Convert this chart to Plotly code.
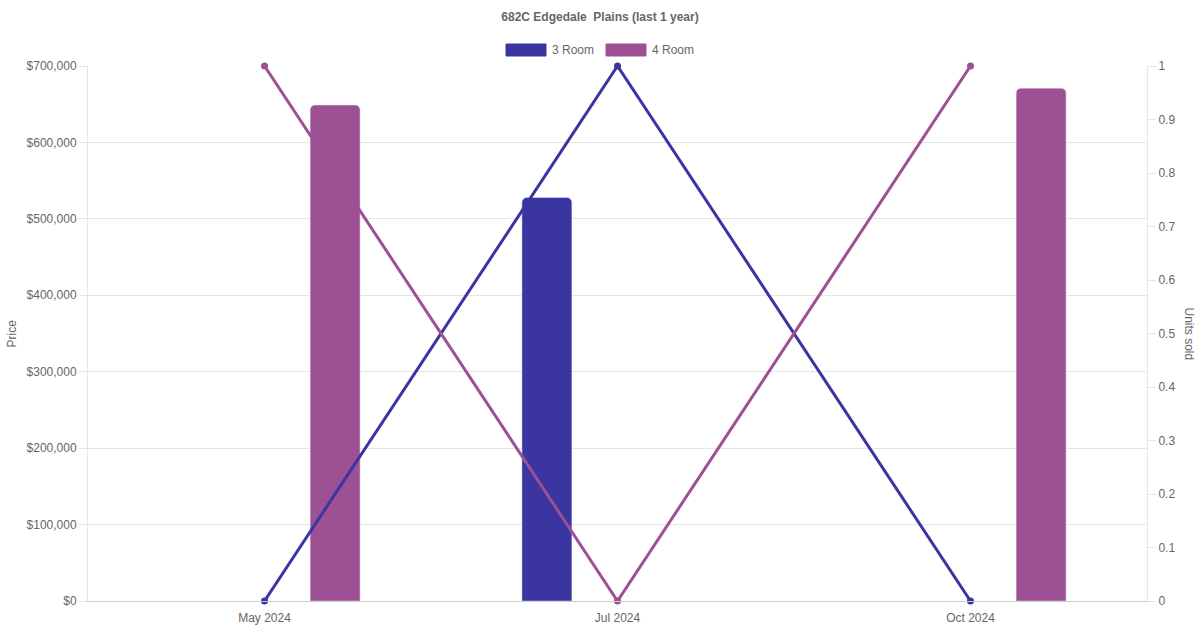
import plotly.graph_objects as go

# data
months = ["May 2024", "Jul 2024", "Oct 2024"]
price_3room = [None, 528000, None]
price_4room = [649000, None, 671000]
units_3room = [0, 1, 0]
units_4room = [1, 0, 1]

BLUE = "#3a35a0"
PURPLE = "#9d5093"
GRID = "#e5e5e5"
TXT = "#666666"
FONT = "Liberation Sans, Arial, sans-serif"

W, H = 1200, 630
L, R, T, B = 88, 1147, 66, 601


def px(x):
    return (x - L) / (R - L)


def py(y):
    return (B - y) / (B - T)


fig = go.Figure()

# bars (price, left axis)
fig.add_trace(go.Bar(x=months, y=price_3room, name="3 Room", marker_color=BLUE,
                     width=0.1416, offset=-0.2708, showlegend=False))
fig.add_trace(go.Bar(x=months, y=price_4room, name="4 Room", marker_color=PURPLE,
                     width=0.1416, offset=0.1292, showlegend=False))

# lines (units sold, right axis)
fig.add_trace(go.Scatter(x=months, y=units_3room, yaxis="y2", mode="lines+markers",
                         line=dict(color=BLUE, width=3), marker=dict(size=7, color=BLUE),
                         cliponaxis=False, showlegend=False))
fig.add_trace(go.Scatter(x=months, y=units_4room, yaxis="y2", mode="lines+markers",
                         line=dict(color=PURPLE, width=3), marker=dict(size=7, color=PURPLE),
                         cliponaxis=False, showlegend=False))

# legend drawn by hand to get the wide chart.js style boxes
shapes = []
annotations = []
for x0, col, label in [(506, BLUE, "3 Room"), (606, PURPLE, "4 Room")]:
    shapes.append(dict(type="rect", xref="paper", yref="paper",
                       x0=px(x0), x1=px(x0 + 40), y0=py(56), y1=py(44),
                       fillcolor=col, line=dict(color=col, width=1)))
    annotations.append(dict(text=label, xref="paper", yref="paper", x=px(x0 + 44), y=py(50),
                            xanchor="left", yanchor="middle", showarrow=False,
                            font=dict(size=12, color=TXT, family=FONT)))

annotations.append(dict(text="Price", xref="paper", yref="paper", x=px(11), y=0.5,
                        xanchor="center", yanchor="middle", textangle=-90, showarrow=False,
                        font=dict(size=12, color=TXT, family=FONT)))
annotations.append(dict(text="Units sold", xref="paper", yref="paper", x=px(1189), y=0.5,
                        xanchor="center", yanchor="middle", textangle=90, showarrow=False,
                        font=dict(size=12, color=TXT, family=FONT)))

fig.update_layout(
    width=W, height=H,
    margin=dict(l=L, r=W - R, t=T, b=H - B),
    paper_bgcolor="white", plot_bgcolor="white",
    font=dict(family=FONT, size=12, color=TXT),
    title=dict(text="<b>682C Edgedale  Plains (last 1 year)</b>", x=0.5, xanchor="center",
               y=1 - 17 / H, yanchor="middle", font=dict(size=12, color=TXT)),
    barcornerradius=5,
    shapes=shapes,
    annotations=annotations,
    xaxis=dict(type="category", range=[-0.5, 2.5], showgrid=False, zeroline=False,
               showline=True, linecolor="#cccccc", ticks="", ticklabelstandoff=6,
               automargin=False, tickfont=dict(size=12, color=TXT)),
    yaxis=dict(range=[0, 700000], dtick=100000, tickprefix="$", tickformat=",",
               showgrid=True, gridcolor=GRID, zeroline=False, automargin=False,
               showline=True, linecolor=GRID, ticks="outside", ticklen=8, tickcolor=GRID,
               tickfont=dict(size=12, color=TXT)),
    yaxis2=dict(range=[0, 1], dtick=0.1, overlaying="y", side="right", showgrid=False,
                zeroline=False, showline=True, linecolor=GRID, ticks="outside", ticklen=8,
                automargin=False, tickcolor=GRID, tickfont=dict(size=12, color=TXT)),
)

fig.write_html("out.html", config={"displayModeBar": False},
               post_script="document.body.style.margin='0';")
